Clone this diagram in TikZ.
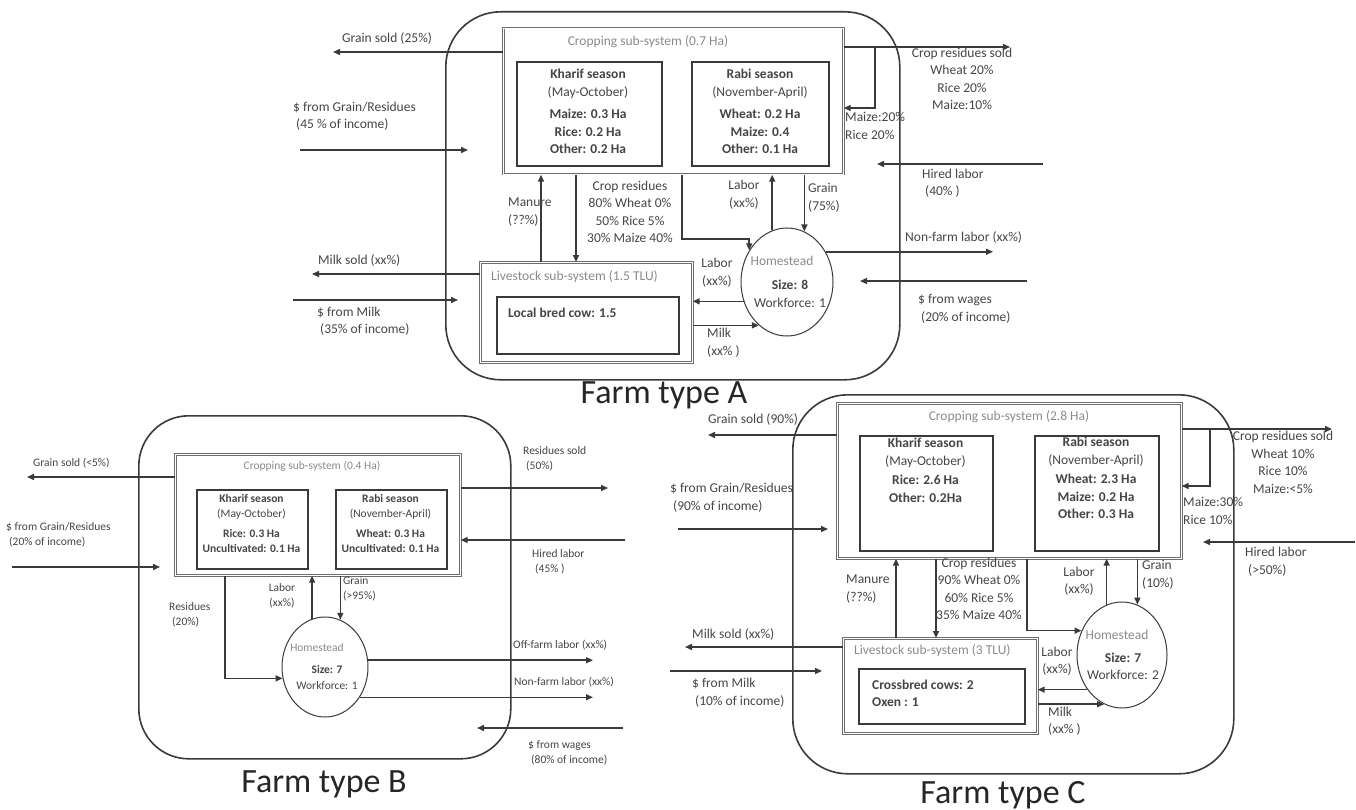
\documentclass[tikz,border=0pt]{standalone}
\usepackage{fontspec}
\setmainfont{Carlito}
\usepackage{tikz}
\usetikzlibrary{arrows.meta,positioning,shapes.geometric}
\definecolor{farmline}{HTML}{3A3A3A}
\definecolor{boxgray}{HTML}{6E6E6E}
\definecolor{labelgray}{HTML}{454545}
\definecolor{titlegray}{HTML}{8A8A8A}
\newcommand{\lblfontA}{\fontsize{13.5}{17.5}\selectfont}
\newcommand{\lblfontB}{\fontsize{11.5}{15}\selectfont}
\tikzset{
  farmbox/.style={draw=farmline, line width=1.6pt, rounded corners=55pt, inner sep=0pt, anchor=north west},
  subbox/.style={draw=boxgray, double=white, double distance=0.9pt, line width=0.7pt, inner sep=0pt, anchor=north west},
  seasonbox/.style={draw=farmline, line width=1.8pt, inner sep=0pt, anchor=north west},
  homestead/.style={ellipse, draw=farmline, line width=1pt, inner sep=0pt},
  flow/.style={-{Triangle[length=7pt,width=6pt]}, line width=1.5pt, draw=farmline},
  lbl/.style={text=labelgray, inner sep=0pt, align=left, anchor=west},
  clbl/.style={text=labelgray, inner sep=0pt, align=center},
  subtitle/.style={text=titlegray, inner sep=0pt},
  farmtitle/.style={font=\fontsize{34}{40}\selectfont, text=black!85, anchor=base, inner sep=0pt}
}
\begin{document}
\begin{tikzpicture}[x=1pt,y=-1pt]
  \useasboundingbox (0,0) rectangle (1356,810);

  % Farm type A
  \node[farmbox, minimum width=454pt, minimum height=368pt] (farmA) at (445,11) {};
  \node[subbox, minimum width=340pt, minimum height=146pt] (cropA) at (503,28) {};
  \node[seasonbox, minimum width=145pt, minimum height=104pt] (kharifA) at (516,61) {};
  \node[seasonbox, minimum width=137pt, minimum height=104pt] (rabiA) at (691,61) {};
  \node[subbox, minimum width=212pt, minimum height=100pt] (liveA) at (480,262) {};
  \node[seasonbox, minimum width=182pt, minimum height=57pt] (cowA) at (496,296) {};
  \node[homestead, minimum width=92pt, minimum height=108pt] (homeA) at (787,282) {};
  \node[subtitle, font=\lblfontA] (cropAttl) at (648,42) {Cropping sub-system (0.7 Ha)};
  \node[clbl, font=\lblfontA, anchor=north] (kharifAtxt) at (588,69) {\textbf{Kharif season}\\(May-October)\\[5pt]\textbf{Maize: 0.3 Ha}\\\textbf{Rice: 0.2 Ha}\\\textbf{Other: 0.2 Ha}};
  \node[clbl, font=\lblfontA, anchor=north] (rabiAtxt) at (760,69) {\textbf{Rabi season}\\(November-April)\\[5pt]\textbf{Wheat: 0.2 Ha}\\\textbf{Maize: 0.4}\\\textbf{Other: 0.1 Ha}};
  \node[subtitle, font=\lblfontA, anchor=west] (liveAttl) at (491,277) {Livestock sub-system (1.5 TLU)};
  \node[lbl, font=\lblfontA] (cowAtxt) at (508,313) {\textbf{Local bred cow: 1.5}};
  \node[subtitle, font=\lblfontA] (homeAttl) at (782,261) {Homestead};
  \node[clbl, font=\lblfontA] (homeAsz) at (790,285) {\textbf{Size: 8}};
  \node[clbl, font=\lblfontA] (homeAwf) at (790,303) {Workforce: 1};

  \coordinate (gsA) at (333,52);
  \draw[flow] (cropA.west |- gsA) -- (gsA);
  \node[lbl, font=\lblfontA] (gsAlbl) at (342,39) {Grain sold (25\%)};
  \coordinate (pgA1) at (300,150);
  \coordinate (pgA2) at (468,150);
  \draw[flow] (pgA1) -- (pgA2);
  \node[lbl, font=\lblfontA] (pgAlbl) at (293,116.5) {\$ from Grain/Residues\\\hspace*{3pt}(45 \% of income)};
  \coordinate (rsA) at (1010,47);
  \draw[flow] (cropA.east |- rsA) -- (rsA);
  \coordinate (brA) at (875,108);
  \draw[flow] (brA |- rsA) -- (brA) -- (cropA.east |- brA);
  \node[clbl, font=\lblfontA] (rsAlbl) at (962,79) {Crop residues sold\\Wheat 20\%\\Rice 20\%\\Maize:10\%};
  \node[lbl, font=\lblfontA] (brAlbl) at (845,126) {Maize:20\%\\Rice 20\%};
  \coordinate (hlA1) at (1043,164);
  \coordinate (hlA2) at (877,164);
  \draw[flow] (hlA1) -- (hlA2);
  \node[lbl, font=\lblfontA] (hlAlbl) at (922,183.5) {Hired labor\\\hspace*{3pt}(40\% )};
  \coordinate (mnA) at (541,0);
  \draw[flow] (liveA.north -| mnA) -- (cropA.south -| mnA);
  \node[lbl, font=\lblfontA] (mnAlbl) at (508,212) {Manure\\(??\%)};
  \coordinate (crsA) at (576,0);
  \draw[flow] (cropA.south -| crsA) -- (liveA.north -| crsA);
  \node[clbl, font=\lblfontA] (crsAlbl) at (630,212) {Crop residues\\80\% Wheat 0\%\\50\% Rice 5\%\\30\% Maize 40\%};
  \coordinate (chA) at (682,239);
  \draw[flow] (cropA.south -| chA) -- (chA) -| (homeA.140);
  \draw[flow] (homeA.106) -- (homeA.106 |- cropA.south);
  \node[clbl, font=\lblfontA] (lbAlbl) at (744,195) {Labor\\(xx\%)};
  \draw[flow] (homeA.71 |- cropA.south) -- (homeA.71);
  \node[lbl, font=\lblfontA] (grAlbl) at (808,198) {Grain\\(75\%)};
  \coordinate (nfA) at (993,0);
  \draw[flow] (homeA.38) -- (homeA.38 -| nfA);
  \node[lbl, font=\lblfontA] (nfAlbl) at (905,237) {Non-farm labor (xx\%)};
  \coordinate (wgA1) at (1027,281);
  \coordinate (wgA2) at (860,281);
  \draw[flow] (wgA1) -- (wgA2);
  \node[lbl, font=\lblfontA] (wgAlbl) at (918,309) {\$ from wages\\\hspace*{3pt}(20\% of income)};
  \draw[flow] (homeA.204) -- (homeA.204 -| liveA.east);
  \node[clbl, font=\lblfontA] (llAlbl) at (717,272.5) {Labor\\(xx\%)};
  \draw[flow] (liveA.east |- homeA.237) -- (homeA.237);
  \node[lbl, font=\lblfontA] (mkAlbl) at (707,342.5) {Milk\\(xx\% )};
  \coordinate (msA) at (312,274);
  \draw[flow] (liveA.west |- msA) -- (msA);
  \node[lbl, font=\lblfontA] (msAlbl) at (318,260) {Milk sold (xx\%)};
  \coordinate (pmA1) at (293,300);
  \coordinate (pmA2) at (458,300);
  \draw[flow] (pmA1) -- (pmA2);
  \node[lbl, font=\lblfontA] (pmAlbl) at (317,321) {\$ from Milk\\\hspace*{3pt}(35\% of income)};
  \node[farmtitle] (ttlA) at (664,403) {Farm type A};

  % Farm type B
  \node[farmbox, rounded corners=50pt, minimum width=372pt, minimum height=343pt] (farmB) at (138,415) {};
  \node[subbox, minimum width=285pt, minimum height=121pt] (cropB) at (175,454) {};
  \node[seasonbox, minimum width=111pt, minimum height=79pt] (kharifB) at (196,489) {};
  \node[seasonbox, minimum width=111pt, minimum height=79pt] (rabiB) at (335,489) {};
  \node[homestead, minimum width=86pt, minimum height=100pt] (homeB) at (325,667) {};
  \node[subtitle, font=\lblfontB] (cropBttl) at (312,466) {Cropping sub-system (0.4 Ha)};
  \node[clbl, font=\lblfontB, anchor=north] (kharifBtxt) at (251.5,494) {\textbf{Kharif season}\\(May-October)\\[5pt]\textbf{Rice: 0.3 Ha}\\\textbf{Uncultivated: 0.1 Ha}};
  \node[clbl, font=\lblfontB, anchor=north] (rabiBtxt) at (390.5,494) {\textbf{Rabi season}\\(November-April)\\[5pt]\textbf{Wheat: 0.3 Ha}\\\textbf{Uncultivated: 0.1 Ha}};
  \node[subtitle, font=\lblfontB] (homeBttl) at (317,648) {Homestead};
  \node[clbl, font=\lblfontB] (homeBsz) at (327,670) {\textbf{Size: 7}};
  \node[clbl, font=\lblfontB] (homeBwf) at (327,686) {Workforce: 1};

  \coordinate (gsB) at (27,477);
  \draw[flow] (cropB.west |- gsB) -- (gsB);
  \node[lbl, font=\lblfontB] (gsBlbl) at (33,463) {Grain sold (<5\%)};
  \coordinate (pgB1) at (12,567);
  \coordinate (pgB2) at (160,567);
  \draw[flow] (pgB1) -- (pgB2);
  \node[lbl, font=\lblfontB] (pgBlbl) at (6,535) {\$ from Grain/Residues\\\hspace*{3pt}(20\% of income)};
  \coordinate (rsB) at (608,488);
  \draw[flow] (cropB.east |- rsB) -- (rsB);
  \node[lbl, font=\lblfontB] (rsBlbl) at (523,459) {Residues sold\\\hspace*{3pt}(50\%)};
  \coordinate (hlB) at (625,540);
  \draw[flow] (hlB) -- (cropB.east |- hlB);
  \node[lbl, font=\lblfontB] (hlBlbl) at (532,562) {Hired labor\\\hspace*{3pt}(45\% )};
  \coordinate (rdB) at (225,0);
  \draw[flow] (cropB.south -| rdB) -- (rdB |- homeB.195) -- (homeB.195);
  \node[lbl, font=\lblfontB] (rdBlbl) at (169,614.5) {Residues\\\hspace*{3pt}(20\%)};
  \draw[flow] (homeB.105) -- (homeB.105 |- cropB.south);
  \node[clbl, font=\lblfontB] (lbBlbl) at (282,595.5) {Labor\\(xx\%)};
  \draw[flow] (homeB.72 |- cropB.south) -- (homeB.72);
  \node[lbl, font=\lblfontB] (grBlbl) at (343,589) {Grain\\(>95\%)};
  \coordinate (ofB) at (593,0);
  \draw[flow] (homeB.9) -- (homeB.9 -| ofB);
  \node[lbl, font=\lblfontB] (ofBlbl) at (513,645) {Off-farm labor (xx\%)};
  \draw[flow] (homeB.319) -- (homeB.319 -| ofB);
  \node[lbl, font=\lblfontB] (nfBlbl) at (514,682) {Non-farm labor (xx\%)};
  \coordinate (wgB1) at (623,728);
  \coordinate (wgB2) at (477,728);
  \draw[flow] (wgB1) -- (wgB2);
  \node[lbl, font=\lblfontB] (wgBlbl) at (528,752.5) {\$ from wages\\\hspace*{3pt}(80\% of income)};
  \node[farmtitle] (ttlB) at (324,792) {Farm type B};

  % Farm type C
  \node[farmbox, minimum width=441pt, minimum height=379pt] (farmC) at (792,394) {};
  \node[subbox, minimum width=344pt, minimum height=155pt] (cropC) at (837,403) {};
  \node[seasonbox, minimum width=133pt, minimum height=115pt] (kharifC) at (859,435) {};
  \node[seasonbox, minimum width=124pt, minimum height=115pt] (rabiC) at (1034,435) {};
  \node[subbox, minimum width=194pt, minimum height=95pt] (liveC) at (843,638) {};
  \node[seasonbox, minimum width=166pt, minimum height=55pt] (cowC) at (858,668) {};
  \node[homestead, minimum width=90pt, minimum height=106pt] (homeC) at (1122,655) {};
  \node[subtitle, font=\lblfontA] (cropCttl) at (1009,417) {Cropping sub-system (2.8 Ha)};
  \node[clbl, font=\lblfontA, anchor=north] (kharifCtxt) at (925.5,438) {\textbf{Kharif season}\\(May-October)\\[2pt]\textbf{Rice: 2.6 Ha}\\\textbf{Other: 0.2Ha}};
  \node[clbl, font=\lblfontA, anchor=north] (rabiCtxt) at (1096,437) {\textbf{Rabi season}\\(November-April)\\[2pt]\textbf{Wheat: 2.3 Ha}\\\textbf{Maize: 0.2 Ha}\\\textbf{Other: 0.3 Ha}};
  \node[subtitle, font=\lblfontA, anchor=west] (liveCttl) at (854,651) {Livestock sub-system (3 TLU)};
  \node[lbl, font=\lblfontA] (cowCtxt) at (872,693.5) {\textbf{Crossbred cows: 2}\\\textbf{Oxen : 1}};
  \node[subtitle, font=\lblfontA] (homeCttl) at (1117,635) {Homestead};
  \node[clbl, font=\lblfontA] (homeCsz) at (1123,658) {\textbf{Size: 7}};
  \node[clbl, font=\lblfontA] (homeCwf) at (1123,675) {Workforce: 2};

  \coordinate (gsC) at (708,435);
  \draw[flow] (cropC.west |- gsC) -- (gsC);
  \node[lbl, font=\lblfontA] (gsClbl) at (708,419) {Grain sold (90\%)};
  \coordinate (pgC1) at (678,529);
  \coordinate (pgC2) at (828,529);
  \draw[flow] (pgC1) -- (pgC2);
  \node[lbl, font=\lblfontA] (pgClbl) at (670,497.5) {\$ from Grain/Residues\\\hspace*{3pt}(90\% of income)};
  \coordinate (rsC) at (1332,429);
  \draw[flow] (cropC.east |- rsC) -- (rsC);
  \coordinate (brC) at (1210,486);
  \draw[flow] (brC |- rsC) -- (brC) -- (cropC.east |- brC);
  \node[clbl, font=\lblfontA] (rsClbl) at (1283,462.5) {Crop residues sold\\Wheat 10\%\\Rice 10\%\\Maize:<5\%};
  \node[lbl, font=\lblfontA] (brClbl) at (1183,511) {Maize:30\%\\Rice 10\%};
  \coordinate (hlC1) at (1355,542);
  \coordinate (hlC2) at (1203,542);
  \draw[flow] (hlC1) -- (hlC2);
  \node[lbl, font=\lblfontA] (hlClbl) at (1245,561.5) {Hired labor\\\hspace*{3pt}(>50\%)};
  \coordinate (mnC) at (896,0);
  \draw[flow] (liveC.north -| mnC) -- (cropC.south -| mnC);
  \node[lbl, font=\lblfontA] (mnClbl) at (846,589) {Manure\\(??\%)};
  \coordinate (crsC) at (936,0);
  \draw[flow] (cropC.south -| crsC) -- (liveC.north -| crsC);
  \node[clbl, font=\lblfontA] (crsClbl) at (979,589) {Crop residues\\90\% Wheat 0\%\\60\% Rice 5\%\\35\% Maize 40\%};
  \coordinate (chC) at (1027,0);
  \draw[flow] (cropC.south -| chC) -- (chC |- homeC.149) -- (homeC.149);
  \draw[flow] (homeC.107) -- (homeC.107 |- cropC.south);
  \node[clbl, font=\lblfontA] (lbClbl) at (1079,581) {Labor\\(xx\%)};
  \draw[flow] (homeC.73 |- cropC.south) -- (homeC.73);
  \node[lbl, font=\lblfontA] (grClbl) at (1142,575) {Grain\\(10\%)};
  \draw[flow] (homeC.225) -- (homeC.225 -| liveC.east);
  \node[clbl, font=\lblfontA] (llClbl) at (1057,661) {Labor\\(xx\%)};
  \draw[flow] (liveC.east |- homeC.250) -- (homeC.250);
  \node[lbl, font=\lblfontA] (mkClbl) at (1048,721) {Milk\\(xx\% )};
  \coordinate (msC) at (685,647);
  \draw[flow] (liveC.west |- msC) -- (msC);
  \node[lbl, font=\lblfontA] (msClbl) at (692,634) {Milk sold (xx\%)};
  \coordinate (pmC1) at (670,671);
  \coordinate (pmC2) at (822,671);
  \draw[flow] (pmC1) -- (pmC2);
  \node[lbl, font=\lblfontA] (pmClbl) at (692,692.5) {\$ from Milk\\\hspace*{3pt}(10\% of income)};
  \node[farmtitle] (ttlC) at (1003,803) {Farm type C};
\end{tikzpicture}
\end{document}
